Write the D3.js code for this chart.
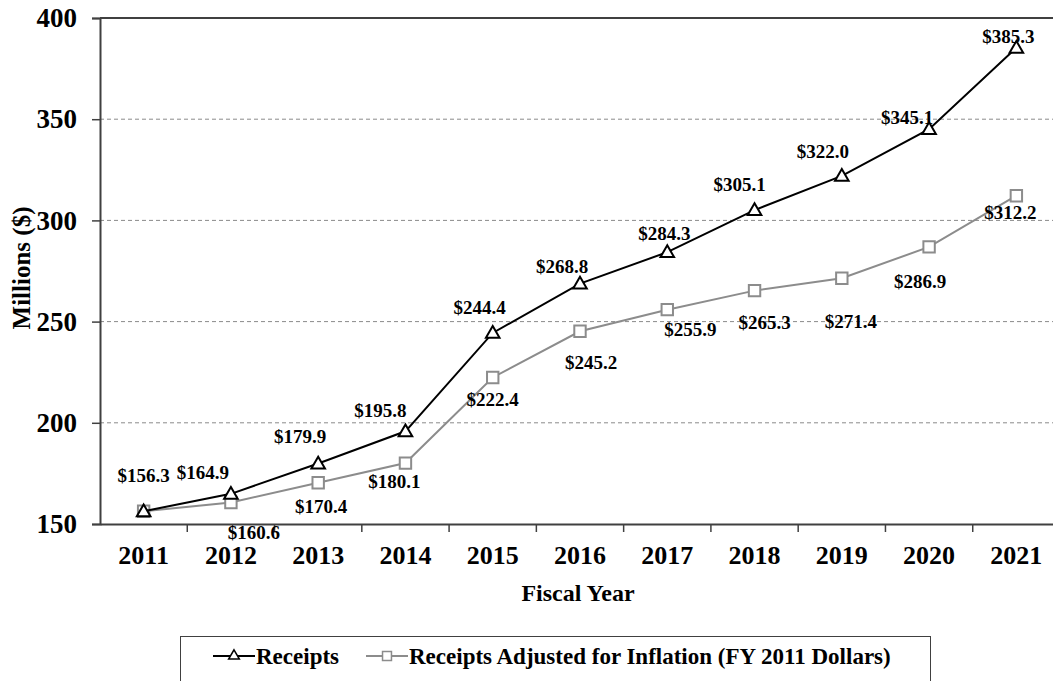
<!DOCTYPE html>
<html>
<head>
<meta charset="utf-8">
<script src="https://cdn.jsdelivr.net/npm/d3@7"></script>
<style>
  body { margin: 0; background: #fff; overflow: hidden; }
  text { font-family: "Liberation Serif", "Times New Roman", serif; font-weight: bold; }
</style>
</head>
<body>
<script>
const years = ["2011", "2012", "2013", "2014", "2015", "2016", "2017", "2018", "2019", "2020", "2021"];
const receipts = [156.3, 164.9, 179.9, 195.8, 244.4, 268.8, 284.3, 305.1, 322.0, 345.1, 385.3];
const adjusted = [156.3, 160.6, 170.4, 180.1, 222.4, 245.2, 255.9, 265.3, 271.4, 286.9, 312.2];
const yTicks = [150, 200, 250, 300, 350, 400];

// label nudges (px), null = no label
const receiptsLabelPos = [[0, -36], [-28, -21], [-18, -27], [-25, -21], [-13, -26], [-18, -17],
  [-3, -19], [-15, -26], [-19, -25], [-22, -12], [-8, -11]];
const adjustedLabelPos = [null, [23, 30], [3, 24], [-11, 18], [0, 22], [11, 31],
  [23, 20], [10, 32], [9, 43], [-9, 34], [-6, 17]];

const W = 1053, H = 681;
const margin = { top: 18, left: 100, bottom: 157, right: -7 };

const svg = d3.select("body").append("svg")
  .attr("width", W)
  .attr("height", H);

const x = d3.scaleBand()
  .domain(years)
  .range([margin.left, W - margin.right])
  .padding(0);

const y = d3.scaleLinear()
  .domain([150, 400])
  .range([H - margin.bottom, margin.top]);

const cx = d => x(d) + x.bandwidth() / 2;

// dashed gridlines
svg.append("g")
  .selectAll("line")
  .data(yTicks.filter(t => t > 150 && t < 400))
  .enter().append("line")
  .attr("x1", margin.left).attr("x2", W - margin.right)
  .attr("y1", d => y(d)).attr("y2", d => y(d))
  .attr("stroke", "#8a8a8a")
  .attr("stroke-width", 1)
  .attr("stroke-dasharray", "4,3");

// plot border top/right
svg.append("path")
  .attr("d", `M${margin.left},${y(400)}H${W - margin.right}V${y(150)}`)
  .attr("fill", "none")
  .attr("stroke", "#404040")
  .attr("stroke-width", 2);

// y axis
const yAxis = svg.append("g")
  .attr("transform", `translate(${margin.left},0)`)
  .call(d3.axisLeft(y).tickValues(yTicks).tickSize(8).tickPadding(15));
yAxis.select(".domain").attr("stroke", "#404040").attr("stroke-width", 2);
yAxis.selectAll(".tick line").attr("stroke", "#404040").attr("stroke-width", 1.5);
yAxis.selectAll("text")
  .style("font-size", "27px")
  .attr("fill", "#000")
  .attr("font-family", "Liberation Serif");

// x axis, ticks between categories
const xAxis = svg.append("g")
  .attr("transform", `translate(0,${y(150)})`)
  .call(d3.axisBottom(x).tickSize(0).tickPadding(22));
xAxis.select(".domain").attr("stroke", "#404040").attr("stroke-width", 2);
xAxis.selectAll("text")
  .style("font-size", "26px")
  .attr("fill", "#000")
  .attr("font-family", "Liberation Serif");

svg.append("g")
  .selectAll("line")
  .data(years.slice(1))
  .enter().append("line")
  .attr("x1", d => x(d)).attr("x2", d => x(d))
  .attr("y1", y(150)).attr("y2", y(150) + 8)
  .attr("stroke", "#404040")
  .attr("stroke-width", 1.5);

// axis titles
svg.append("text")
  .attr("x", 578)
  .attr("y", 601)
  .attr("text-anchor", "middle")
  .style("font-size", "24px")
  .text("Fiscal Year");

svg.append("text")
  .attr("transform", "translate(30,268) rotate(-90)")
  .attr("text-anchor", "middle")
  .style("font-size", "25px")
  .text("Millions ($)");

const line = d3.line()
  .x((d, i) => cx(years[i]))
  .y(d => y(d));

const triangle = d3.symbol().type(d3.symbolTriangle).size(80);
const square = d3.symbol().type(d3.symbolSquare).size(130);

// adjusted series (drawn first, underneath)
svg.append("path")
  .datum(adjusted)
  .attr("d", line)
  .attr("fill", "none")
  .attr("stroke", "#8c8c8c")
  .attr("stroke-width", 2);

svg.append("g")
  .selectAll("path")
  .data(adjusted)
  .enter().append("path")
  .attr("d", square)
  .attr("transform", (d, i) => `translate(${cx(years[i])},${y(d)})`)
  .attr("fill", "#fff")
  .attr("stroke", "#8c8c8c")
  .attr("stroke-width", 2);

// receipts series
svg.append("path")
  .datum(receipts)
  .attr("d", line)
  .attr("fill", "none")
  .attr("stroke", "#000")
  .attr("stroke-width", 2);

svg.append("g")
  .selectAll("path")
  .data(receipts)
  .enter().append("path")
  .attr("d", triangle)
  .attr("transform", (d, i) => `translate(${cx(years[i])},${y(d) + 1})`)
  .attr("fill", "#fff")
  .attr("stroke", "#000")
  .attr("stroke-width", 2);

// data labels
svg.append("g")
  .selectAll("text")
  .data(adjusted.map((v, i) => ({ v, i, p: adjustedLabelPos[i] })).filter(d => d.p))
  .enter().append("text")
  .attr("x", d => cx(years[d.i]) + d.p[0])
  .attr("y", d => y(d.v) + d.p[1])
  .attr("dy", "0.35em")
  .attr("text-anchor", "middle")
  .style("font-size", "19px")
  .text(d => "$" + d.v.toFixed(1));

svg.append("g")
  .selectAll("text")
  .data(receipts.map((v, i) => ({ v, i, p: receiptsLabelPos[i] })))
  .enter().append("text")
  .attr("x", d => cx(years[d.i]) + d.p[0])
  .attr("y", d => y(d.v) + d.p[1])
  .attr("dy", "0.35em")
  .attr("text-anchor", "middle")
  .style("font-size", "19px")
  .text(d => "$" + d.v.toFixed(1));

// legend
const legend = svg.append("g");
legend.append("rect")
  .attr("x", 180.5).attr("y", 636.5)
  .attr("width", 750).attr("height", 60)
  .attr("fill", "#fff")
  .attr("stroke", "#404040")
  .attr("stroke-width", 1);

const legendItems = [
  { name: "Receipts", color: "#000", x: 213 },
  { name: "Receipts Adjusted for Inflation (FY 2011 Dollars)", color: "#8c8c8c", x: 366 }
];
const lg = legend.selectAll("g.item")
  .data(legendItems)
  .enter().append("g")
  .attr("class", "item")
  .attr("transform", d => `translate(${d.x},656)`);
lg.append("line")
  .attr("x1", 0).attr("x2", 42)
  .attr("stroke", d => d.color)
  .attr("stroke-width", 2);
lg.append("path")
  .attr("d", (d, i) => (i === 0 ? d3.symbol().type(d3.symbolTriangle).size(50) : d3.symbol().type(d3.symbolSquare).size(80))())
  .attr("transform", "translate(21,0)")
  .attr("fill", "#fff")
  .attr("stroke", d => d.color)
  .attr("stroke-width", 1.5);
lg.append("text")
  .attr("x", 43)
  .attr("y", 8)
  .style("font-size", "23px")
  .text(d => d.name);
</script>
</body>
</html>
